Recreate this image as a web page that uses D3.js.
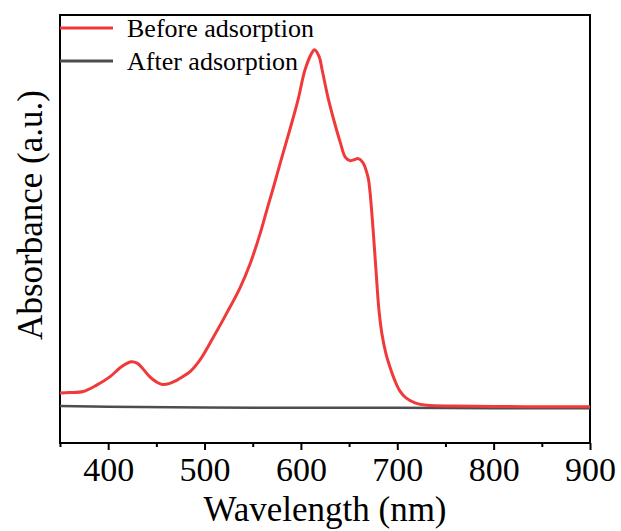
<!DOCTYPE html>
<html>
<head>
<meta charset="utf-8">
<script src="https://cdn.jsdelivr.net/npm/d3@7"></script>
<style>
  html, body { margin: 0; padding: 0; background: #fff; }
  svg { display: block; }
  svg text { font-family: "Liberation Serif", "Times New Roman", Tinos, "Nimbus Roman", "Nimbus Roman No9 L", "FreeSerif", "Noto Serif", "DejaVu Serif", serif !important; fill: #000; }
</style>
</head>
<body>
<svg id="chart" width="621" height="531"></svg>
<script>
// ---- data ----
const beforeWavelength = [350, 360, 374, 388, 402, 412, 418, 424, 430, 436, 443, 450, 456, 464, 470, 478, 485, 495.3, 508.8, 523.3, 536.8, 547.2, 557.5, 565.8, 571, 578.3, 588.7, 597, 604.2, 611.5, 614, 619, 622, 628, 635, 641, 646, 651, 656, 659, 664, 669.6, 671.7, 674.8, 677.9, 681, 684.1, 688.3, 692.4, 697.6, 702.8, 709, 718.4, 730.8, 760, 800, 850, 900];
const beforeAbs = [0.041, 0.042, 0.045, 0.063, 0.087, 0.111, 0.122, 0.129, 0.125, 0.109, 0.087, 0.072, 0.065, 0.068, 0.075, 0.088, 0.101, 0.134, 0.196, 0.267, 0.337, 0.404, 0.488, 0.567, 0.615, 0.686, 0.784, 0.866, 0.950, 0.999, 1.007, 0.987, 0.951, 0.874, 0.801, 0.745, 0.705, 0.695, 0.698, 0.701, 0.691, 0.649, 0.607, 0.505, 0.387, 0.274, 0.207, 0.151, 0.114, 0.075, 0.046, 0.027, 0.013, 0.006, 0.004, 0.003, 0.002, 0.002];
const afterWavelength = [350, 400, 500, 600, 700, 800, 900];
const afterAbs = [0.004, 0.002, 0.000, -0.001, -0.001, -0.002, -0.002];
const xTicks = [400, 500, 600, 700, 800, 900];
const xMinorTicks = [350, 450, 550, 650, 750, 850];
const seriesNames = ["Before adsorption", "After adsorption"];
const seriesColors = ["#f03a3a", "#4d4d4d"];

// ---- layout ----
const svg = d3.select("#chart");
const L = 60, R = 590, T = 15, B = 443;
const x = d3.scaleLinear().domain([350, 900]).range([L, R]);
const y = d3.scaleLinear().domain([-0.1, 1.105]).range([B, T]);

// frame
svg.append("rect").attr("x", L).attr("y", T).attr("width", R - L).attr("height", B - T)
  .attr("fill", "none").attr("stroke", "#000").attr("stroke-width", 2);

// bottom axis ticks (major + minor)
const gx = svg.append("g").attr("transform", `translate(0,${B})`);
gx.call(d3.axisBottom(x).tickValues(xTicks).tickSize(7).tickPadding(7).tickFormat(d3.format("d")))
  .call(g => g.attr("font-family", null))
  .call(g => g.select(".domain").remove())
  .call(g => g.selectAll("line").attr("stroke", "#000").attr("stroke-width", 2))
  .call(g => g.selectAll("text").attr("font-size", 34).attr("dy", "0.71em"));
const gxm = svg.append("g").attr("transform", `translate(0,${B})`);
gxm.call(d3.axisBottom(x).tickValues(xMinorTicks).tickSize(4).tickFormat(""))
  .call(g => g.select(".domain").remove())
  .call(g => g.selectAll("line").attr("stroke", "#000").attr("stroke-width", 2));

// lines
const line = d3.line().x(d => x(d[0])).y(d => y(d[1])).curve(d3.curveCatmullRom.alpha(0.5));
const afterData = afterWavelength.map((w, i) => [w, afterAbs[i]]);
const beforeData = beforeWavelength.map((w, i) => [w, beforeAbs[i]]);
svg.append("path").datum(afterData).attr("d", line).attr("fill", "none")
  .attr("stroke", seriesColors[1]).attr("stroke-width", 2.5);
svg.append("path").datum(beforeData).attr("d", line).attr("fill", "none")
  .attr("stroke", seriesColors[0]).attr("stroke-width", 3);

// legend
const legY = [28, 61];
seriesNames.forEach((name, i) => {
  svg.append("line").attr("x1", L).attr("x2", 113).attr("y1", legY[i]).attr("y2", legY[i])
    .attr("stroke", seriesColors[i]).attr("stroke-width", 3);
  svg.append("text").attr("x", 127).attr("y", legY[i] + 9).attr("font-size", 26).text(name);
});

// axis titles
svg.append("text").attr("x", (L + R) / 2).attr("y", 521).attr("text-anchor", "middle")
  .attr("font-size", 35).text("Wavelength (nm)");
svg.append("text").attr("transform", "translate(42,215) rotate(-90)").attr("text-anchor", "middle")
  .attr("font-size", 35).text("Absorbance (a.u.)");
</script>
</body>
</html>
